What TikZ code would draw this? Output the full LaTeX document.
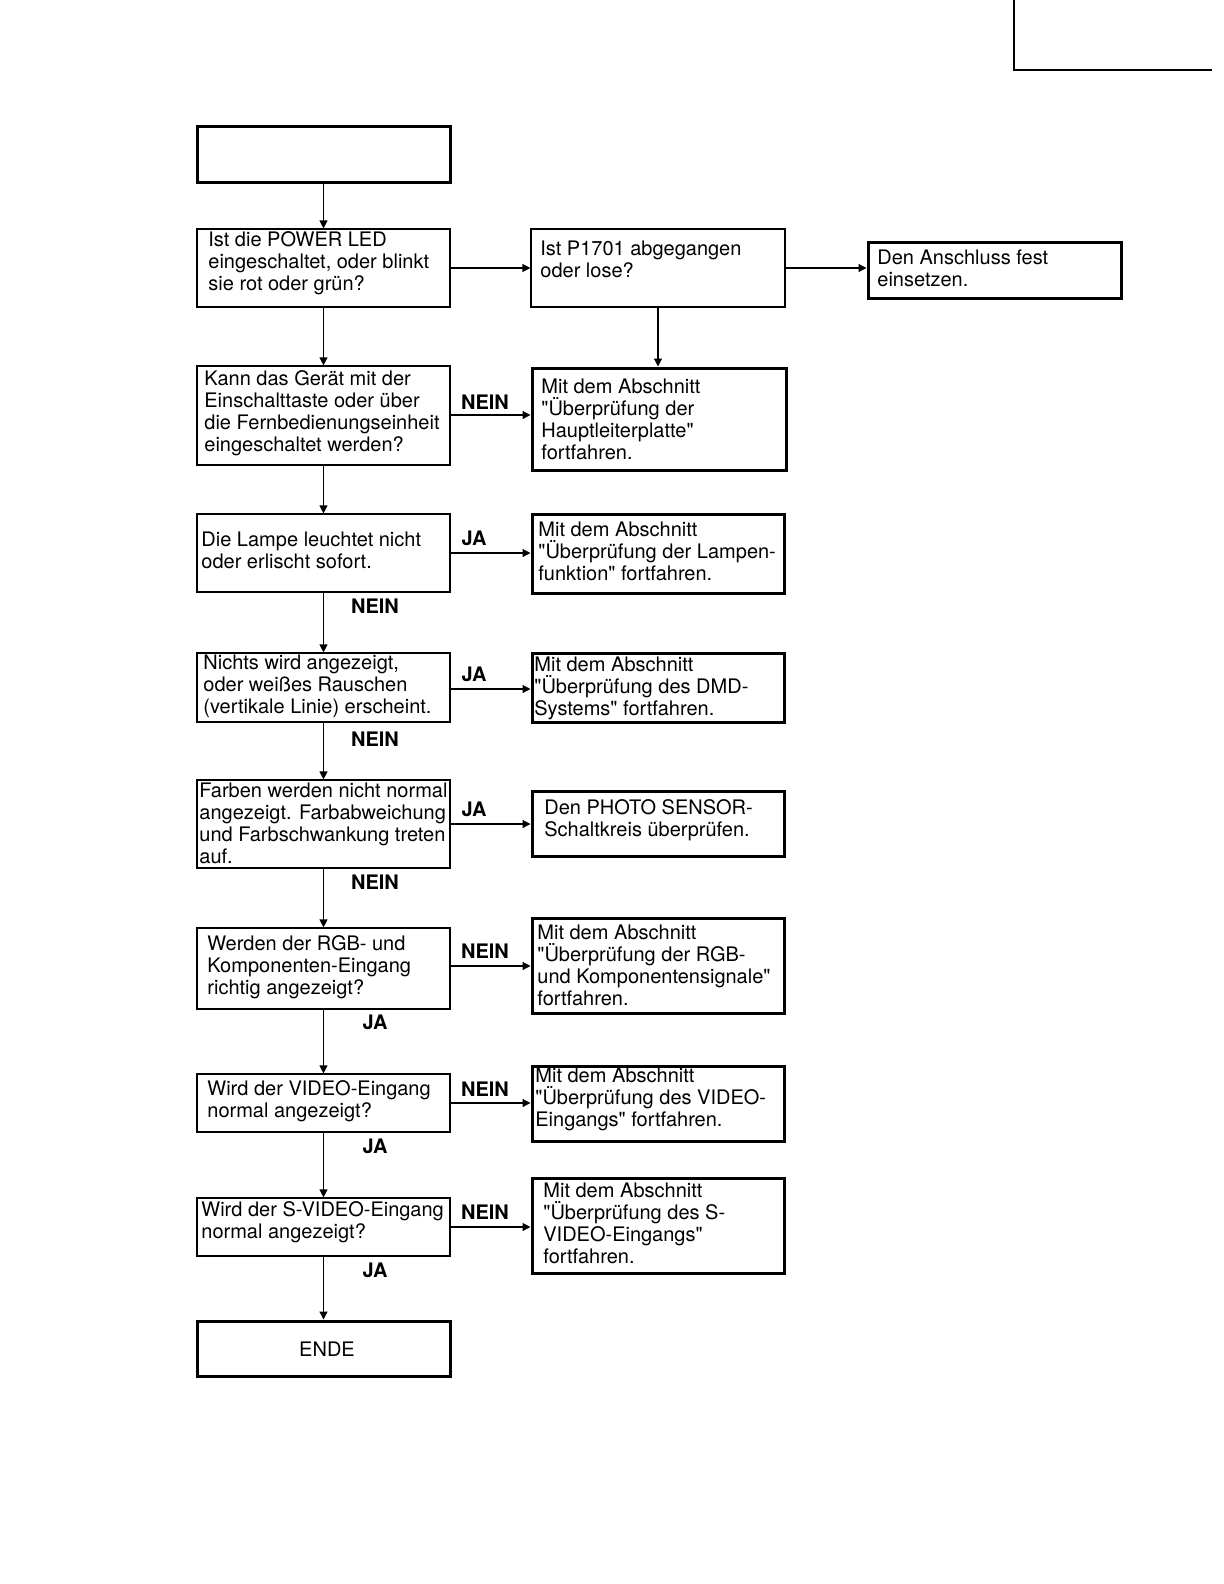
\documentclass[tikz,border=0pt]{standalone}
\usepackage{fontspec}
\setmainfont{TeX Gyre Heros}[Ligatures=TeXOff]
\usetikzlibrary{arrows.meta,fit}
\tikzset{
  thinbox/.style={draw=black, line width=0.6pt, inner sep=0pt, fill=none},
  thickbox/.style={draw=black, line width=1.5pt, inner sep=0pt, fill=none},
  txt/.style={anchor=west, align=left, inner sep=0pt, font=\fontsize{10}{11}\selectfont},
  lbl/.style={inner sep=0pt, font=\fontsize{10}{11}\selectfont\bfseries},
  arr/.style={line width=0.6pt, -{Triangle[length=4pt,width=4pt]}},
  ln/.style={line width=0.6pt},
}
\begin{document}
\begin{tikzpicture}[x=0.5pt,y=-0.5pt]
\useasboundingbox (0,0) rectangle (1224,1584);
% corner mark
\coordinate (c1) at (1014,0);
\coordinate (c2) at (1014,70);
\coordinate (c3) at (1212,70);
\draw[line width=1.3pt] (c1) -- (c2) -- (c3);

% boxes
\node[thickbox, fit={(197,127) (450,182)}] (start) {};
\node[thinbox, fit={(197,229) (450,307)}] (q1) {};
\node[thinbox, fit={(531,229) (785,307)}] (p) {};
\node[thickbox, fit={(868,242) (1121,298)}] (a) {};
\node[thinbox, fit={(197,366) (450,465)}] (q2) {};
\node[thickbox, fit={(532,368) (786,470)}] (h) {};
\node[thinbox, fit={(197,514) (450,592)}] (q3) {};
\node[thickbox, fit={(532,514) (784,593)}] (l) {};
\node[thinbox, fit={(197,653) (450,722)}] (q4) {};
\node[thickbox, fit={(532,653) (784,722)}] (d) {};
\node[thinbox, fit={(197,780) (450,868)}] (q5) {};
\node[thickbox, fit={(532,791) (784,856)}] (ph) {};
\node[thinbox, fit={(197,928) (450,1009)}] (q6) {};
\node[thickbox, fit={(532,918) (784,1013)}] (r) {};
\node[thinbox, fit={(197,1074) (450,1132)}] (q7) {};
\node[thickbox, fit={(532,1066) (784,1141)}] (v) {};
\node[thinbox, fit={(197,1198) (450,1256)}] (q8) {};
\node[thickbox, fit={(532,1178) (784,1273)}] (s) {};
\node[thickbox, fit={(197,1321) (450,1376)}] (ende) {};

% texts
\node[txt] (q1t) at (208,263) {Ist die POWER LED\\eingeschaltet, oder blinkt\\sie rot oder grün?};
\node[txt] (pt) at (540,259) {Ist P1701 abgegangen\\oder lose?};
\node[txt] (at) at (877,268) {Den Anschluss fest\\einsetzen.};
\node[txt] (q2t) at (204,413) {Kann das Gerät mit der\\Einschalttaste oder über\\die Fernbedienungseinheit\\eingeschaltet werden?};
\node[txt] (ht) at (541,419) {Mit dem Abschnitt\\"Überprüfung der\\Hauptleiterplatte"\\fortfahren.};
\node[txt] (q3t) at (201,550) {Die Lampe leuchtet nicht\\oder erlischt sofort.};
\node[txt] (lt) at (538,551) {Mit dem Abschnitt\\"Überprüfung der Lampen-\\funktion" fortfahren.};
\node[txt] (q4t) at (203,686) {Nichts wird angezeigt,\\oder weißes Rauschen\\(vertikale Linie) erscheint.};
\node[txt] (dt) at (534,688) {Mit dem Abschnitt\\"Überprüfung des DMD-\\Systems" fortfahren.};
\node[txt] (q5t) at (199,823) {Farben werden nicht normal\\angezeigt. Farbabweichung\\und Farbschwankung treten\\auf.};
\node[txt] (pht) at (544,820) {Den PHOTO SENSOR-\\Schaltkreis überprüfen.};
\node[txt] (q6t) at (207,967) {Werden der RGB- und\\Komponenten-Eingang\\richtig angezeigt?};
\node[txt] (rt) at (537,965) {Mit dem Abschnitt\\"Überprüfung der RGB-\\und Komponentensignale"\\fortfahren.};
\node[txt] (q7t) at (207,1101) {Wird der VIDEO-Eingang\\normal angezeigt?};
\node[txt] (vt) at (535,1099) {Mit dem Abschnitt\\"Überprüfung des VIDEO-\\Eingangs" fortfahren.};
\node[txt] (q8t) at (201,1222) {Wird der S-VIDEO-Eingang\\normal angezeigt?};
\node[txt] (st) at (543,1223) {Mit dem Abschnitt\\"Überprüfung des S-\\VIDEO-Eingangs"\\fortfahren.};
\node[txt, anchor=center] (endet) at (327,1349) {ENDE};

% vertical connectors
\draw[arr] (start.south) -- (q1.north);
\draw[arr] (q1.south) -- (q2.north);
\draw[arr] (q2.south) -- (q3.north);
\draw[arr] (q3.south) -- (q4.north);
\draw[arr] (q4.south) -- (q5.north);
\draw[arr] (q5.south) -- (q6.north);
\draw[arr] (q6.south) -- (q7.north);
\draw[arr] (q7.south) -- (q8.north);
\draw[arr] (q8.south) -- (ende.north);
\draw[arr] (p.south) -- (p.south |- h.north);

% horizontal connectors
\draw[arr] (q1.east) -- (q1.east -| p.west);
\draw[arr] (p.east) -- (p.east -| a.west);
\draw[arr] ([yshift=0.25pt]q2.east) -- ([yshift=0.25pt]q2.east -| h.west);
\draw[arr] (q3.east) -- (q3.east -| l.west);
\draw[arr] ([yshift=-0.75pt]q4.east) -- ([yshift=-0.75pt]q4.east -| d.west);
\draw[arr] (q5.east) -- (q5.east -| ph.west);
\draw[arr] ([yshift=1.25pt]q6.east) -- ([yshift=1.25pt]q6.east -| r.west);
\draw[arr] (q7.east) -- (q7.east -| v.west);
\draw[arr] (q8.east) -- (q8.east -| s.west);

% labels
\node[lbl] (l2) at (485,402) {NEIN};
\node[lbl] (l3) at (474,538) {JA};
\node[lbl] (l3d) at (375,606) {NEIN};
\node[lbl] (l4) at (474,674) {JA};
\node[lbl] (l4d) at (375,739) {NEIN};
\node[lbl] (l5) at (474,809) {JA};
\node[lbl] (l5d) at (375,882) {NEIN};
\node[lbl] (l6) at (485,951) {NEIN};
\node[lbl] (l6d) at (375,1022) {JA};
\node[lbl] (l7) at (485,1089) {NEIN};
\node[lbl] (l7d) at (375,1146) {JA};
\node[lbl] (l8) at (485,1212) {NEIN};
\node[lbl] (l8d) at (375,1270) {JA};
\end{tikzpicture}
\end{document}
